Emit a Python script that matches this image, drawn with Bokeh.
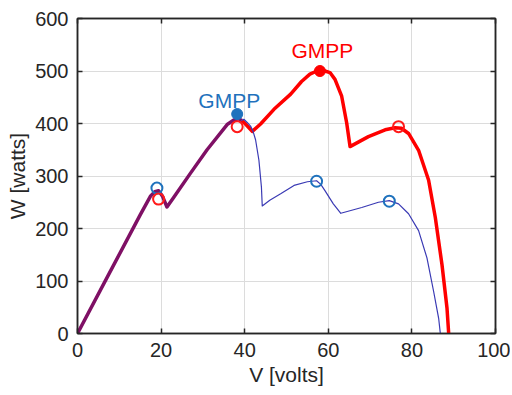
from bokeh.plotting import figure
from bokeh.models import LinearAxis, FixedTicker, CustomJSTickFormatter, Range1d
from bokeh.core.properties import value
from bokeh.embed import file_html
from bokeh.resources import INLINE

# shared part of both P-V curves
shared_v = [0, 7.5, 15.0, 17.5, 18.5, 19.4, 20.3, 21.4, 23.0, 27.0, 31.0, 35.8, 37.5, 38.5, 39.3]
shared_w = [0, 113, 226, 262, 270, 272, 262, 241, 259, 305, 350, 398, 407, 409, 406]

# red curve (continuation)
red_v = [39.3, 40.3, 41.8, 43.8, 47.0, 51.0, 53.6, 55.6, 57.0, 58.0, 59.2, 60.4, 61.6, 63.2, 64.4, 65.2,
         67.5, 69.6, 73.6, 76.0, 77.5, 79.2, 81.6, 84.0, 85.6, 87.2, 88.4, 88.8]
red_w = [406, 398, 385, 399, 427, 456, 480, 494, 499, 500, 500, 497, 484, 452, 401, 356,
         366, 375, 388, 392, 391, 381, 349, 292, 221, 131, 48, 0]

# blue curve (continuation)
blue_v = [39.3, 39.8, 40.6, 41.4, 42.0, 42.6, 43.4, 44.0, 44.2, 46.0, 48.6, 51.8, 55.0, 57.2, 58.2, 59.2,
          61.2, 63.0, 68.0, 72.0, 74.6, 76.8, 79.2, 81.6, 83.6, 85.2, 86.4, 86.8]
blue_w = [406, 408, 402, 395, 385, 369, 330, 279, 243, 254, 266, 282, 289, 291, 284, 272,
          247, 229, 240, 250, 253, 247, 228, 196, 144, 80, 29, 0]

# local maxima markers
blue_mpp_v = [19.0, 57.2, 74.6]
blue_mpp_w = [277, 290, 252]
blue_gmpp_v = [38.2]
blue_gmpp_w = [418]
red_mpp_v = [19.4, 38.2, 76.8]
red_mpp_w = [256, 394, 394]
red_gmpp_v = [58.0]
red_gmpp_w = [500]

x_ticks = [0, 20, 40, 60, 80, 100]
y_ticks = [0, 100, 200, 300, 400, 500, 600]

FONT = "Liberation Sans"
TXT = "#262626"
AX = "#262626"

p = figure(width=510, height=394, output_backend="svg", toolbar_location=None,
           x_range=Range1d(0, 100), y_range=Range1d(0, 600),
           min_border_left=77, min_border_right=15, min_border_top=18, min_border_bottom=61)
p.outline_line_color = AX
p.outline_line_width = 1.5
p.background_fill_color = "white"
p.border_fill_color = "white"

for ax, ticks, label in ((p.xaxis[0], x_ticks, "V [volts]"), (p.yaxis[0], y_ticks, "W [watts]")):
    ax.ticker = FixedTicker(ticks=ticks)
    ax.axis_label = label
    ax.axis_label_text_font = FONT
    ax.axis_label_text_font_size = "21px"
    ax.axis_label_text_font_style = "normal"
    ax.axis_label_text_color = TXT
    ax.major_label_text_font = FONT
    ax.major_label_text_font_size = "20px"
    ax.major_label_text_color = TXT
    ax.major_tick_in = 5
    ax.major_tick_out = 0
    ax.minor_tick_line_color = None
    ax.axis_line_color = AX
    ax.axis_line_width = 1.5
    ax.major_tick_line_color = AX
    ax.major_tick_line_width = 1.5
p.xaxis.major_label_standoff = 9
p.yaxis.major_label_standoff = 9
p.xaxis.axis_label_standoff = 3
p.yaxis.axis_label_standoff = 3

empty = CustomJSTickFormatter(code="return ''")
top = LinearAxis(ticker=FixedTicker(ticks=x_ticks), formatter=empty)
right = LinearAxis(ticker=FixedTicker(ticks=y_ticks), formatter=empty)
for ax in (top, right):
    ax.major_tick_in = 5
    ax.major_tick_out = 0
    ax.minor_tick_line_color = None
    ax.axis_line_color = AX
    ax.axis_line_width = 1.5
    ax.major_tick_line_color = AX
    ax.major_tick_line_width = 1.5
    ax.major_label_standoff = 0
p.add_layout(top, "above")
p.add_layout(right, "right")

p.xgrid.ticker = FixedTicker(ticks=x_ticks)
p.ygrid.ticker = FixedTicker(ticks=y_ticks)
p.grid.grid_line_color = "#dcdcdc"
p.grid.grid_line_width = 1

# curves
p.line(red_v, red_w, line_color="#ff0000", line_width=3.5, line_join="round")
p.line(blue_v, blue_w, line_color="#3a3ab4", line_width=1.2, line_join="round")
p.line(shared_v, shared_w, line_color="#7f1065", line_width=3.5, line_join="round")

# markers
p.scatter(blue_mpp_v, blue_mpp_w, marker="circle", size=11, fill_color=None,
          line_color="#1f72bd", line_width=2)
p.scatter(red_mpp_v, red_mpp_w, marker="circle", size=11, fill_color=None,
          line_color="#ff1a1a", line_width=2)
p.scatter(blue_gmpp_v, blue_gmpp_w, marker="circle", size=11, fill_color="#1f72bd",
          line_color="#1f72bd", line_width=1)
p.scatter(red_gmpp_v, red_gmpp_w, marker="circle", size=11, fill_color="#ff0000",
          line_color="#ff0000", line_width=1)

p.text(x=[36.3], y=[444], text=["GMPP"], text_align="center", text_baseline="middle",
       text_color="#1f72bd", text_font_size="21px", text_font=value(FONT))
p.text(x=[58.6], y=[539], text=["GMPP"], text_align="center", text_baseline="middle",
       text_color="#ff0000", text_font_size="21px", text_font=value(FONT))

open("out.html", "w").write(file_html(p, INLINE))
